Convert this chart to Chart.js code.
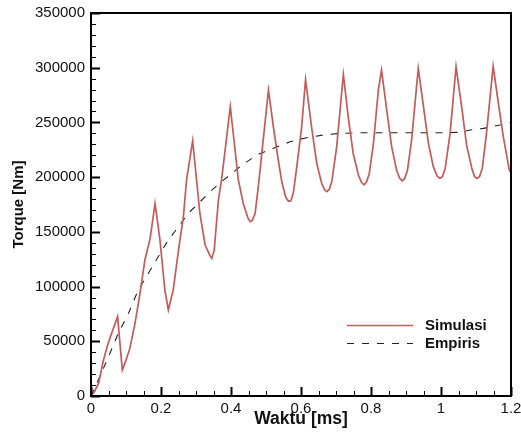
<!DOCTYPE html>
<html>
<head>
<meta charset="utf-8">
<script src="https://cdn.jsdelivr.net/npm/chart.js@4.4.1/dist/chart.umd.min.js"></script>
<style>
  html, body { margin: 0; padding: 0; background: #fff; }
  #wrap { width: 521px; height: 434px; }
</style>
</head>
<body>
<div id="wrap"><canvas id="torqueChart"></canvas></div>
<script>
// Simulasi
const simTime = [0, 0.01, 0.022, 0.035, 0.048, 0.062, 0.076, 0.0895, 0.097, 0.111, 0.1257, 0.14, 0.154, 0.169, 0.183,
  0.197, 0.211, 0.221, 0.235, 0.25, 0.264, 0.273, 0.2905,
  0.311, 0.326, 0.339, 0.345, 0.352, 0.364, 0.373, 0.398,
  0.421, 0.435, 0.449, 0.455, 0.461, 0.469, 0.478, 0.507,
  0.521, 0.535, 0.545, 0.556, 0.564, 0.571, 0.578, 0.588, 0.602, 0.613,
  0.630, 0.645, 0.659, 0.667, 0.674, 0.681, 0.688, 0.702, 0.721,
  0.735, 0.749, 0.764, 0.773, 0.780, 0.787, 0.795, 0.807, 0.821, 0.830,
  0.845, 0.859, 0.873, 0.882, 0.889, 0.896, 0.904, 0.916, 0.935,
  0.950, 0.964, 0.978, 0.989, 0.997, 1.004, 1.012, 1.026, 1.043,
  1.059, 1.073, 1.088, 1.096, 1.103, 1.110, 1.118, 1.130, 1.149,
  1.164, 1.178, 1.195, 1.2];
const simTorque = [0, 4000, 12000, 32000, 47000, 60000, 72500, 23800, 30000, 43500, 66400, 93800, 124300, 144000, 176000,
  142600, 96900, 78600, 96900, 133400, 164000, 197400, 233300,
  167000, 138000, 129000, 125800, 133000, 179100, 197400, 264400,
  197400, 176000, 162300, 159300, 160500, 167000, 191300, 279600,
  246200, 215700, 196000, 182000, 178000, 178500, 185200, 209600, 246200, 289000,
  246200, 212600, 194400, 188500, 186700, 189000, 196000, 227900, 293900,
  255100, 221700, 201900, 195000, 193000, 195500, 203000, 230900, 279600, 297900,
  261300, 227800, 206500, 199000, 196700, 198500, 206000, 233900, 299400,
  264400, 230900, 209600, 201000, 198900, 200500, 208000, 240000, 300900,
  264400, 229400, 208000, 200500, 198900, 200500, 208000, 240000, 301500,
  267500, 237000, 206500, 204000];

// Empiris
const empTime = [0, 0.021, 0.05, 0.078, 0.107, 0.135, 0.164, 0.192, 0.221, 0.25, 0.278, 0.307, 0.34, 0.373,
  0.426, 0.473, 0.521, 0.569, 0.616, 0.664, 0.711, 0.76, 0.81, 0.9, 1.0, 1.06, 1.083, 1.121, 1.169, 1.2];
const empTorque = [0, 14600, 35900, 57300, 75500, 96900, 112100, 127300, 142600, 154700, 167000, 176000, 186700, 195800,
  209600, 220200, 226300, 232400, 236000, 238500, 240000, 240500, 240600, 240600, 240600, 241000, 243100, 244600, 247700, 250000];

const xTicks = [0, 0.2, 0.4, 0.6, 0.8, 1, 1.2];
const yTicks = [0, 50000, 100000, 150000, 200000, 250000, 300000, 350000];
const seriesNames = ['Simulasi', 'Empiris'];

function toPoints(xs, ys) {
    return xs.map((x, i) => ({ x: x, y: ys[i] }));
}

// inward ticks + frame, like the original plot
const frameTicks = {
    id: 'frameTicks',
    afterDatasetsDraw(chart) {
        const { ctx, chartArea: a, scales: { x, y } } = chart;
        ctx.save();
        ctx.strokeStyle = '#000';
        for (let v = 0; v <= 1.2001; v += 0.05) {
            const px = Math.round(x.getPixelForValue(v)) + 0.5;
            const major = Math.abs(v / 0.2 - Math.round(v / 0.2)) < 1e-6;
            ctx.lineWidth = major ? 2 : 1;
            ctx.beginPath();
            ctx.moveTo(px, a.bottom);
            ctx.lineTo(px, a.bottom - (major ? 9 : 5));
            ctx.stroke();
        }
        for (let v = 0; v <= 350000; v += 10000) {
            const py = Math.round(y.getPixelForValue(v)) + 0.5;
            const major = v % 50000 === 0;
            ctx.lineWidth = major ? 2 : 1;
            ctx.beginPath();
            ctx.moveTo(a.left, py);
            ctx.lineTo(a.left + (major ? 9 : 5), py);
            ctx.stroke();
        }
        ctx.lineWidth = 2;
        ctx.strokeRect(a.left, a.top, a.right - a.left, a.bottom - a.top);
        ctx.restore();
    }
};

// legend inside the plot, lower right
const insideLegend = {
    id: 'insideLegend',
    afterDraw(chart) {
        const { ctx } = chart;
        const x0 = 347, x1 = 413, rows = [325, 343];
        ctx.save();
        chart.data.datasets.forEach((ds, i) => {
            ctx.strokeStyle = ds.borderColor;
            ctx.lineWidth = ds.borderWidth;
            ctx.setLineDash(ds.borderDash || []);
            ctx.beginPath();
            ctx.moveTo(x0, rows[i] + 0.5);
            ctx.lineTo(x1, rows[i] + 0.5);
            ctx.stroke();
            ctx.setLineDash([]);
            ctx.fillStyle = '#111';
            ctx.font = 'bold 15px "Liberation Sans", Arial, sans-serif';
            ctx.textBaseline = 'middle';
            ctx.fillText(ds.label, 425, rows[i] + 1);
        });
        ctx.restore();
    }
};

document.addEventListener('DOMContentLoaded', () => {
    const ctx = document.getElementById('torqueChart').getContext('2d');
    new Chart(ctx, {
        type: 'scatter',
        data: {
            datasets: [{
                label: seriesNames[0],
                data: toPoints(simTime, simTorque),
                showLine: true,
                borderColor: '#c45a5a',
                borderWidth: 1.7,
                pointRadius: 0,
                tension: 0
            }, {
                label: seriesNames[1],
                data: toPoints(empTime, empTorque),
                showLine: true,
                borderColor: '#222',
                borderWidth: 1.1,
                borderDash: [7, 8],
                pointRadius: 0,
                tension: 0
            }]
        },
        options: {
            responsive: true,
            maintainAspectRatio: false,
            animation: false,
            layout: { padding: { top: 13, right: 10, left: 0, bottom: 0 } },
            plugins: {
                legend: { display: false },
                tooltip: { enabled: false }
            },
            scales: {
                x: {
                    type: 'linear',
                    min: 0,
                    max: 1.2,
                    afterFit: s => { s.height = 38; s.paddingLeft = 0; s.paddingRight = 0; },
                    afterBuildTicks: s => { s.ticks = xTicks.map(v => ({ value: v })); },
                    grid: { display: false, drawTicks: false },
                    border: { display: false },
                    ticks: {
                        color: '#111',
                        padding: 4,
                        maxRotation: 0,
                        font: { family: '"Liberation Sans", Arial, sans-serif', size: 15 },
                        callback: v => String(parseFloat(v.toFixed(1)))
                    },
                    title: {
                        display: true,
                        text: 'Waktu [ms]',
                        color: '#111',
                        padding: { top: 0, bottom: 4 },
                        font: { family: '"Liberation Sans", Arial, sans-serif', size: 17.5, weight: 'bold' }
                    }
                },
                y: {
                    min: 0,
                    max: 350000,
                    afterFit: s => { s.width = 91; s.paddingTop = 0; s.paddingBottom = 0; },
                    afterBuildTicks: s => { s.ticks = yTicks.map(v => ({ value: v })); },
                    grid: { display: false, drawTicks: false },
                    border: { display: false },
                    ticks: {
                        color: '#111',
                        padding: 6,
                        font: { family: '"Liberation Sans", Arial, sans-serif', size: 15 },
                        callback: v => String(v)
                    },
                    title: {
                        display: true,
                        text: 'Torque [Nm]',
                        color: '#111',
                        padding: { top: 10, bottom: 0 },
                        font: { family: '"Liberation Sans", Arial, sans-serif', size: 15, weight: 'bold' }
                    }
                }
            }
        },
        plugins: [frameTicks, insideLegend]
    });
});
</script>
</body>
</html>
